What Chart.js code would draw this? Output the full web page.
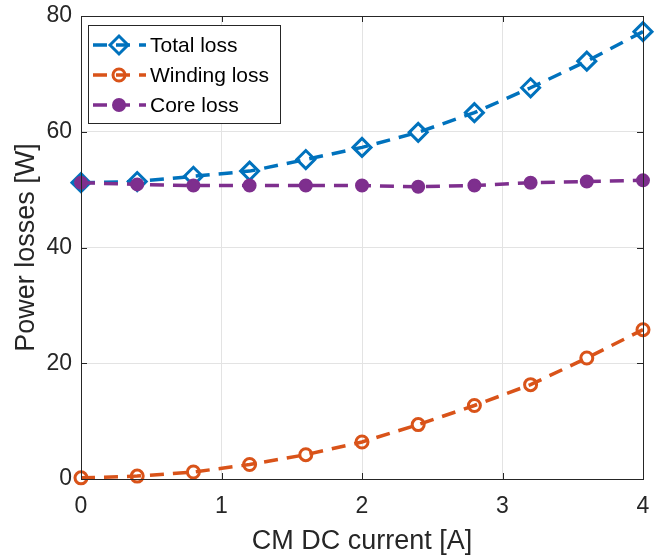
<!DOCTYPE html>
<html>
<head>
<meta charset="utf-8">
<script src="https://cdn.jsdelivr.net/npm/chart.js@4/dist/chart.umd.min.js"></script>
<style>
  html, body { margin: 0; padding: 0; background: #fff; }
  canvas { display: block; }
</style>
</head>
<body>
<canvas id="lossChart" width="672" height="558"></canvas>
<script>
// CM DC current [A]
const current = [0, 0.4, 0.8, 1.2, 1.6, 2.0, 2.4, 2.8, 3.2, 3.6, 4.0];

// losses [W]
const totalLoss = [51.2, 51.4, 52.3, 53.2, 55.2, 57.3, 59.9, 63.3, 67.6, 72.2, 77.3];
const windingLoss = [0.2, 0.5, 1.2, 2.5, 4.2, 6.4, 9.4, 12.7, 16.3, 20.9, 25.8];
const coreLoss = [51.2, 50.9, 50.7, 50.7, 50.7, 50.7, 50.5, 50.7, 51.2, 51.4, 51.6];

const seriesNames = ["Total loss", "Winding loss", "Core loss"];
const xTicks = [0, 1, 2, 3, 4];
const yTicks = [0, 20, 40, 60, 80];

const FONT = "'Liberation Sans', Arial, Helvetica, sans-serif";
const AXIS_COLOR = "#262626";

function toPoints(ys) {
  return current.map((x, i) => ({ x: x, y: ys[i] }));
}

// box around the axes with inward ticks, like matlab "box on"
const axesBox = {
  id: "axesBox",
  afterDatasetsDraw(chart) {
    const { ctx, chartArea: a, scales } = chart;
    ctx.save();
    ctx.strokeStyle = AXIS_COLOR;
    ctx.lineWidth = 1;
    ctx.strokeRect(a.left + 0.5, a.top + 0.5, a.right - a.left, a.bottom - a.top);
    const len = 6;
    ctx.beginPath();
    xTicks.forEach((v) => {
      const px = Math.round(scales.x.getPixelForValue(v)) + 0.5;
      ctx.moveTo(px, a.bottom);
      ctx.lineTo(px, a.bottom - len);
      ctx.moveTo(px, a.top);
      ctx.lineTo(px, a.top + len);
    });
    yTicks.forEach((v) => {
      const py = Math.round(scales.y.getPixelForValue(v)) + 0.5;
      ctx.moveTo(a.left, py);
      ctx.lineTo(a.left + len, py);
      ctx.moveTo(a.right, py);
      ctx.lineTo(a.right - len, py);
    });
    ctx.stroke();
    ctx.restore();
  },
};

// legend drawn as line + marker, top left inside the axes
const lineLegend = {
  id: "lineLegend",
  afterDraw(chart) {
    const { ctx } = chart;
    const box = { x: 88, y: 25, w: 192, h: 98 };
    ctx.save();
    ctx.fillStyle = "#fff";
    ctx.fillRect(box.x, box.y, box.w, box.h);
    ctx.strokeStyle = AXIS_COLOR;
    ctx.lineWidth = 1;
    ctx.strokeRect(box.x + 0.5, box.y + 0.5, box.w, box.h);

    chart.data.datasets.forEach((ds, i) => {
      const y = box.y + 20 + i * 30;
      ctx.save();
      ctx.strokeStyle = ds.borderColor;
      ctx.lineWidth = ds.borderWidth;
      ctx.setLineDash(ds.borderDash);
      ctx.beginPath();
      ctx.moveTo(box.x + 5, y);
      ctx.lineTo(box.x + 58, y);
      ctx.stroke();
      ctx.restore();

      ctx.save();
      ctx.strokeStyle = ds.pointBorderColor;
      ctx.fillStyle = ds.pointBackgroundColor;
      ctx.lineWidth = ds.pointBorderWidth;
      Chart.helpers.drawPoint(ctx, {
        pointStyle: ds.pointStyle,
        radius: ds.pointRadius,
        rotation: 0,
        borderWidth: ds.pointBorderWidth,
      }, box.x + 31, y);
      ctx.restore();

      ctx.fillStyle = "#000";
      ctx.font = "21px " + FONT;
      ctx.textBaseline = "middle";
      ctx.textAlign = "left";
      ctx.fillText(ds.label, box.x + 62, y + 1);
    });
    ctx.restore();
  },
};

new Chart(document.getElementById("lossChart"), {
  type: "line",
  data: {
    datasets: [
      {
        label: seriesNames[0],
        data: toPoints(totalLoss),
        borderColor: "#0072BD",
        borderWidth: 3.5,
        borderDash: [14, 9],
        pointStyle: "rectRot",
        pointRadius: 9,
        pointBorderWidth: 3,
        pointBorderColor: "#0072BD",
        pointBackgroundColor: "rgba(0,0,0,0)",
        order: 2,
      },
      {
        label: seriesNames[1],
        data: toPoints(windingLoss),
        borderColor: "#D95319",
        borderWidth: 3.5,
        borderDash: [14, 9],
        pointStyle: "circle",
        pointRadius: 6,
        pointBorderWidth: 3,
        pointBorderColor: "#D95319",
        pointBackgroundColor: "rgba(0,0,0,0)",
        order: 1,
      },
      {
        label: seriesNames[2],
        data: toPoints(coreLoss),
        borderColor: "#7E2F8E",
        borderWidth: 3.5,
        borderDash: [14, 9],
        pointStyle: "circle",
        pointRadius: 6,
        pointBorderWidth: 2,
        pointBorderColor: "#7E2F8E",
        pointBackgroundColor: "#7E2F8E",
        order: 0,
      },
    ],
  },
  options: {
    responsive: false,
    animation: false,
    clip: false,
    layout: { padding: { left: 0, top: 16, right: 29, bottom: 0 } },
    plugins: {
      legend: { display: false },
      tooltip: { enabled: false },
    },
    scales: {
      x: {
        type: "linear",
        min: 0,
        max: 4,
        afterFit(scale) {
          scale.height = 79;
          scale.paddingLeft = 0;
          scale.paddingRight = 0;
        },
        afterBuildTicks(scale) { scale.ticks = xTicks.map((v) => ({ value: v })); },
        grid: { color: "#e3e3e3", drawTicks: false },
        border: { display: false },
        ticks: {
          padding: 14,
          color: AXIS_COLOR,
          font: { family: FONT, size: 23 },
          maxRotation: 0,
        },
        title: {
          display: true,
          text: "CM DC current [A]",
          color: AXIS_COLOR,
          font: { family: FONT, size: 27 },
          padding: { top: 0, bottom: 0 },
        },
      },
      y: {
        min: 0,
        max: 80,
        afterFit(scale) {
          scale.width = 81;
          scale.paddingTop = 0;
          scale.paddingBottom = 0;
        },
        afterBuildTicks(scale) { scale.ticks = yTicks.map((v) => ({ value: v })); },
        grid: { color: "#e3e3e3", drawTicks: false },
        border: { display: false },
        ticks: {
          padding: 9,
          color: AXIS_COLOR,
          font: { family: FONT, size: 23 },
        },
        title: {
          display: true,
          text: "Power losses [W]",
          color: AXIS_COLOR,
          font: { family: FONT, size: 27 },
          padding: { top: 10, bottom: 0 },
        },
      },
    },
  },
  plugins: [axesBox, lineLegend],
});
</script>
</body>
</html>
